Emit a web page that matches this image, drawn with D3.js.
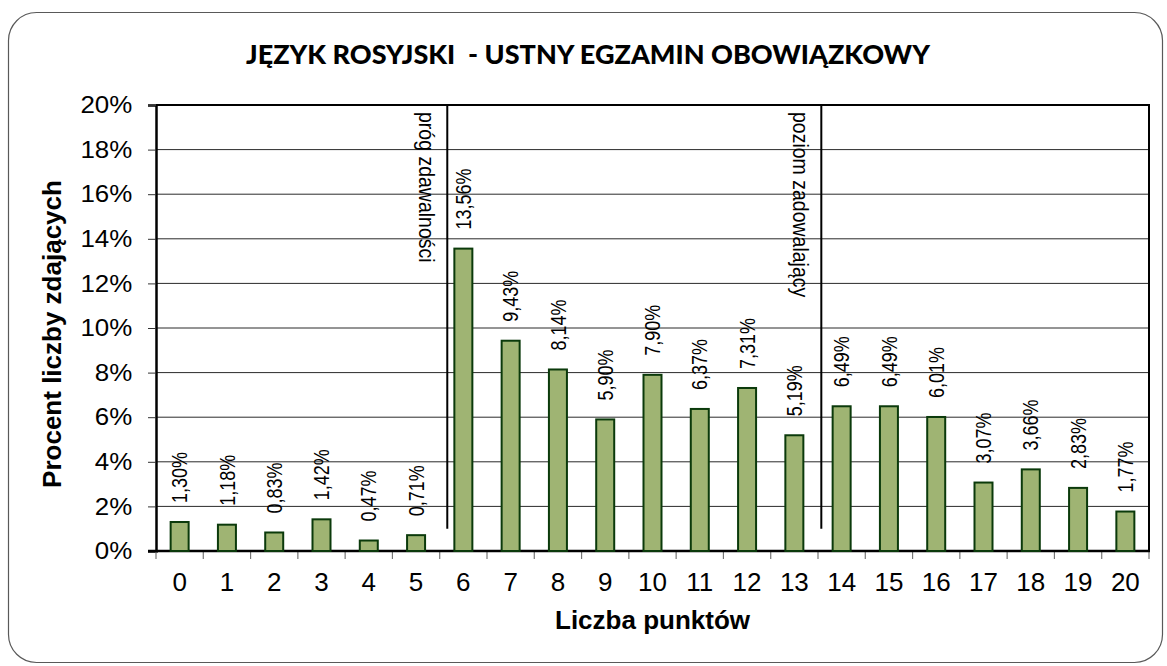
<!DOCTYPE html>
<html>
<head>
<meta charset="utf-8">
<script src="https://cdn.jsdelivr.net/npm/d3@7"></script>
<style>
  body { margin: 0; background: #fff; }
  text { font-family: Arial, "Liberation Sans", sans-serif; fill: #000; }
</style>
</head>
<body>
<div class="d3-chart"></div>
<script>
// chart data
const points = d3.range(0, 21).map(String);
const shares = [1.30, 1.18, 0.83, 1.42, 0.47, 0.71, 13.56, 9.43, 8.14, 5.90, 7.90,
                6.37, 7.31, 5.19, 6.49, 6.49, 6.01, 3.07, 3.66, 2.83, 1.77];
const yTicks = [0, 2, 4, 6, 8, 10, 12, 14, 16, 18, 20];
const thresholdPoints = [6, 14];
const thresholdLabels = ["próg zdawalności", "poziom zadowalający"];
const title = "JĘZYK ROSYJSKI  - USTNY EGZAMIN OBOWIĄZKOWY";

const width = 1167, height = 666;
const margin = {top: 105, right: 18, bottom: 115, left: 156};

const svg = d3.select(".d3-chart")
  .append("svg")
  .attr("width", width)
  .attr("height", height);

// outer frame
svg.append("rect")
  .attr("x", 8.5).attr("y", 12.5)
  .attr("width", 1154).attr("height", 650)
  .attr("rx", 28).attr("ry", 28)
  .attr("fill", "#fff")
  .attr("stroke", "#595959")
  .attr("stroke-width", 1.2);

const x = d3.scaleBand()
  .domain(points)
  .range([margin.left, width - margin.right]);

const y = d3.scaleLinear()
  .domain([0, 20])
  .range([height - margin.bottom, margin.top]);

const fmt = v => v.toFixed(2).replace(".", ",") + "%";

// title (keeps the double space)
svg.append("text")
  .attr("x", 588).attr("y", 64)
  .attr("text-anchor", "middle")
  .style("white-space", "pre")
  .style("font-family", "Lato, 'Open Sans', sans-serif")
  .style("font-weight", "900")
  .style("font-size", "27px")
  .text(title);

// gridlines
svg.append("g")
  .selectAll("line")
  .data(yTicks.slice(1, -1))
  .join("line")
  .attr("x1", x.range()[0]).attr("x2", x.range()[1])
  .attr("y1", d => y(d)).attr("y2", d => y(d))
  .attr("stroke", "#2a2a2a")
  .attr("stroke-width", 1);

// plot area top + right border
svg.append("path")
  .attr("d", `M${x.range()[0]},${y(20)}H${x.range()[1]}V${y(0)}`)
  .attr("fill", "none")
  .attr("stroke", "#000")
  .attr("stroke-width", 2);

// Y axis
const yAxis = svg.append("g")
  .attr("transform", `translate(${margin.left},0)`)
  .call(d3.axisLeft(y).tickValues(yTicks).tickSize(8).tickPadding(14)
    .tickFormat(d => d + "%"));
yAxis.select(".domain").attr("stroke", "#000").attr("stroke-width", 2.5);
yAxis.selectAll(".tick line").attr("stroke", "#333");
yAxis.selectAll(".tick text")
  .style("font-size", "24px")
  .attr("transform", "scale(1.08,1)");

// X axis
const xAxis = svg.append("g")
  .attr("transform", `translate(0,${y(0)})`)
  .call(d3.axisBottom(x).tickSize(0).tickPadding(22));
xAxis.select(".domain").remove();
xAxis.selectAll(".tick text").style("font-size", "26px");
svg.append("g")
  .selectAll("line")
  .data(d3.range(0, points.length + 1))
  .join("line")
  .attr("x1", i => x.range()[0] + i * x.step())
  .attr("x2", i => x.range()[0] + i * x.step())
  .attr("y1", y(0)).attr("y2", y(0) + 8)
  .attr("stroke", "#777")
  .attr("stroke-width", 1.2);
svg.append("line")
  .attr("x1", x.range()[0] - 8).attr("x2", x.range()[1] + 1)
  .attr("y1", y(0)).attr("y2", y(0))
  .attr("stroke", "#000")
  .attr("stroke-width", 2.5);

// bars
const barW = 18;
svg.append("g")
  .selectAll("rect")
  .data(shares)
  .join("rect")
  .attr("x", (d, i) => x(points[i]) + x.bandwidth() / 2 - barW / 2)
  .attr("y", d => y(d))
  .attr("width", barW)
  .attr("height", d => y(0) - y(d))
  .attr("fill", "#9fb473")
  .attr("stroke", "#0b3a0b")
  .attr("stroke-width", 2);

// value labels (glyphs a bit stretched across, like the original)
svg.append("g")
  .selectAll("text")
  .data(shares)
  .join("text")
  .attr("transform", (d, i) =>
    `translate(${x(points[i]) + x.bandwidth() / 2},${y(d) - 19}) scale(1.22,1) rotate(-90)`)
  .attr("dy", "0.35em")
  .style("font-size", "18px")
  .text(d => fmt(d));

// threshold lines with labels
const shift = [0.16, 0.07];
thresholdPoints.forEach((p, i) => {
  const lx = x(String(p)) + shift[i] * x.step();
  svg.append("line")
    .attr("x1", lx).attr("x2", lx)
    .attr("y1", y(20)).attr("y2", y(1))
    .attr("stroke", "#000")
    .attr("stroke-width", 2);
  svg.append("text")
    .attr("transform", `translate(${lx - 28},${y(20) + 7}) scale(1.1,1) rotate(90)`)
    .style("font-size", "19.5px")
    .text(thresholdLabels[i]);
});

// axis titles
svg.append("text")
  .attr("x", (x.range()[0] + x.range()[1]) / 2)
  .attr("y", 629)
  .attr("text-anchor", "middle")
  .style("font-weight", "bold")
  .style("font-size", "26px")
  .text("Liczba punktów");

svg.append("text")
  .attr("transform", `translate(61,334) rotate(-90)`)
  .attr("text-anchor", "middle")
  .style("font-weight", "bold")
  .style("font-size", "26px")
  .text("Procent liczby zdających");
</script>
</body>
</html>
